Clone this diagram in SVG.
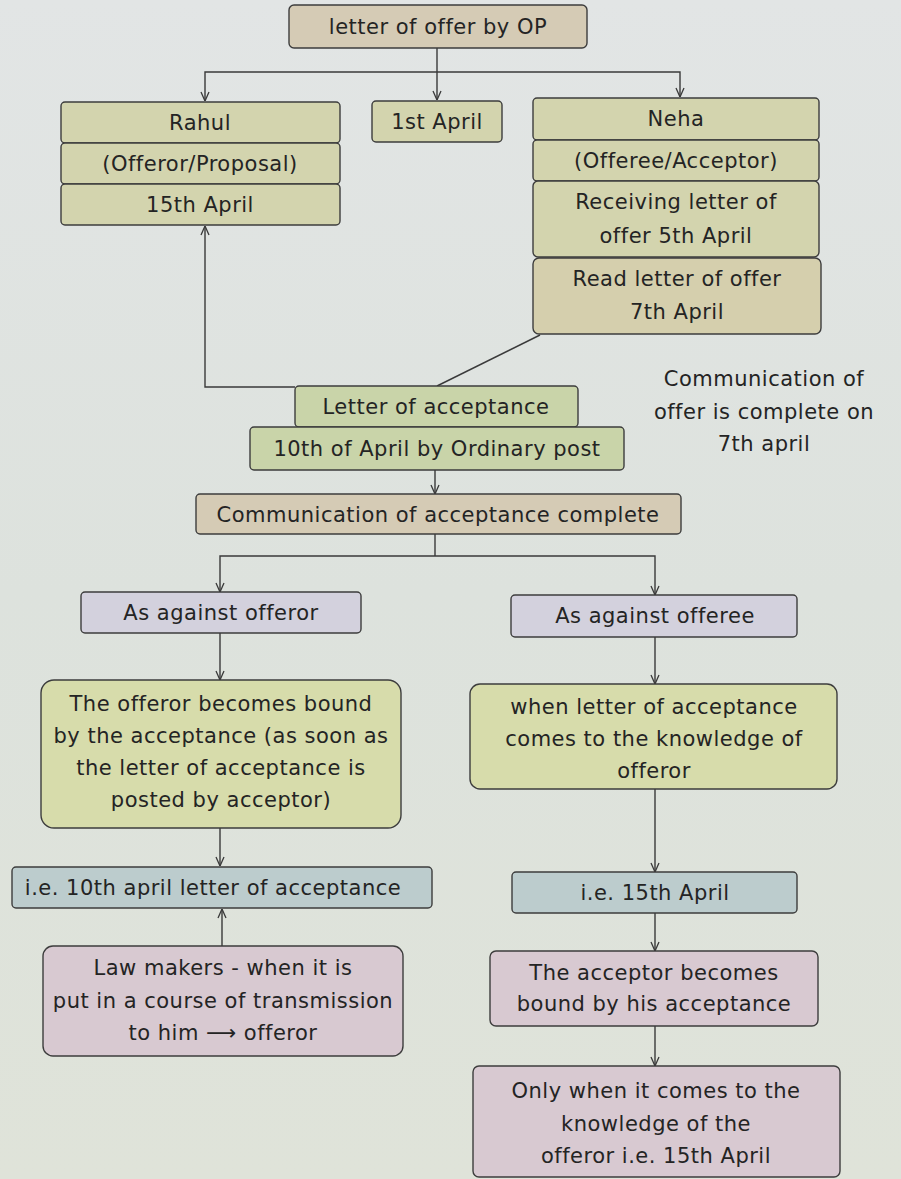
<svg xmlns="http://www.w3.org/2000/svg" width="901" height="1179" viewBox="0 0 901 1179">
  <defs>
    <linearGradient id="page" x1="0" y1="0" x2="0" y2="1">
      <stop offset="0" stop-color="#e2e5e5"/>
      <stop offset="0.5" stop-color="#dde2dd"/>
      <stop offset="1" stop-color="#dfe3d9"/>
    </linearGradient>
    <marker id="arrow" viewBox="0 0 10 10" refX="10" refY="5" markerWidth="10" markerHeight="10" markerUnits="userSpaceOnUse" orient="auto">
      <path d="M1,1 L10,5 L1,9" fill="none" stroke="#3a3a3a" stroke-width="1.3"/>
    </marker>
    <style>
      .box { stroke: #3d3d3d; stroke-width: 1.4; }
      .tan { fill: #d5cbb5; }
      .olive { fill: #d3d4ae; }
      .beige { fill: #d5cfad; }
      .green { fill: #c9d4a9; }
      .lav { fill: #d3d1dd; }
      .yg { fill: #d7dcab; }
      .blue { fill: #bccccd; }
      .pink { fill: #d8c9d1; }
      text { font-family: "DejaVu Sans", "Liberation Sans", sans-serif; font-size: 21px; letter-spacing: 0.5px; fill: #242424; text-anchor: middle; }
      .wire { fill: none; stroke: #3a3a3a; stroke-width: 1.4; }
    </style>
  </defs>

  <rect x="0" y="0" width="901" height="1179" fill="url(#page)"/>

  <!-- connectors -->
  <g id="connectors">
    <path class="wire" d="M437,48 V100" marker-end="url(#arrow)"/>
    <path class="wire" d="M437,72 H205 V101" marker-end="url(#arrow)"/>
    <path class="wire" d="M437,72 H680 V97" marker-end="url(#arrow)"/>
    <path class="wire" d="M295,387 H205 V226" marker-end="url(#arrow)"/>
    <path class="wire" d="M540,335 L437,386"/>
    <path class="wire" d="M435,470 V494" marker-end="url(#arrow)"/>
    <path class="wire" d="M435,534 V556"/>
    <path class="wire" d="M435,556 H220 V592" marker-end="url(#arrow)"/>
    <path class="wire" d="M435,556 H655 V595" marker-end="url(#arrow)"/>
    <path class="wire" d="M220,633 V680" marker-end="url(#arrow)"/>
    <path class="wire" d="M655,637 V684" marker-end="url(#arrow)"/>
    <path class="wire" d="M220,828 V866" marker-end="url(#arrow)"/>
    <path class="wire" d="M655,789 V872" marker-end="url(#arrow)"/>
    <path class="wire" d="M222,946 V909" marker-end="url(#arrow)"/>
    <path class="wire" d="M655,913 V951" marker-end="url(#arrow)"/>
    <path class="wire" d="M655,1026 V1066" marker-end="url(#arrow)"/>
  </g>

  <g id="offer-letter">
    <rect class="box tan" x="289" y="5" width="298" height="43" rx="5"/>
    <text x="438" y="34">letter of offer by OP</text>
  </g>

  <g id="rahul">
    <rect class="box olive" x="61" y="102" width="279" height="41" rx="4"/>
    <text x="200" y="130">Rahul</text>
  </g>
  <g id="rahul-role">
    <rect class="box olive" x="61" y="143" width="279" height="41" rx="4"/>
    <text x="200" y="171">(Offeror/Proposal)</text>
  </g>
  <g id="rahul-date">
    <rect class="box olive" x="61" y="184" width="279" height="41" rx="4"/>
    <text x="200" y="212">15th April</text>
  </g>

  <g id="first-april">
    <rect class="box olive" x="372" y="101" width="130" height="41" rx="4"/>
    <text x="437" y="129">1st April</text>
  </g>

  <g id="neha">
    <rect class="box olive" x="533" y="98" width="286" height="42" rx="4"/>
    <text x="676" y="126">Neha</text>
  </g>
  <g id="neha-role">
    <rect class="box olive" x="533" y="140" width="286" height="41" rx="4"/>
    <text x="676" y="168">(Offeree/Acceptor)</text>
  </g>
  <g id="neha-received">
    <rect class="box olive" x="533" y="181" width="286" height="76" rx="5"/>
    <text x="676" y="209">Receiving letter of</text>
    <text x="676" y="243">offer 5th April</text>
  </g>
  <g id="neha-read">
    <rect class="box beige" x="533" y="258" width="288" height="76" rx="6"/>
    <text x="677" y="286">Read letter of offer</text>
    <text x="677" y="319">7th April</text>
  </g>

  <g id="offer-complete-note">
    <text x="764" y="386">Communication of</text>
    <text x="764" y="419">offer is complete on</text>
    <text x="764" y="451">7th april</text>
  </g>

  <g id="letter-of-acceptance">
    <rect class="box green" x="295" y="386" width="283" height="41" rx="4"/>
    <text x="436" y="414">Letter of acceptance</text>
  </g>
  <g id="posted-date">
    <rect class="box green" x="250" y="427" width="374" height="43" rx="4"/>
    <text x="437" y="456">10th of April by Ordinary post</text>
  </g>

  <g id="acceptance-complete">
    <rect class="box tan" x="196" y="494" width="485" height="40" rx="4"/>
    <text x="438" y="522">Communication of acceptance complete</text>
  </g>

  <g id="against-offeror">
    <rect class="box lav" x="81" y="592" width="280" height="41" rx="4"/>
    <text x="221" y="620">As against offeror</text>
  </g>
  <g id="against-offeree">
    <rect class="box lav" x="511" y="595" width="286" height="42" rx="4"/>
    <text x="655" y="623">As against offeree</text>
  </g>

  <g id="offeror-bound">
    <rect class="box yg" x="41" y="680" width="360" height="148" rx="13"/>
    <text x="221" y="711">The offeror becomes bound</text>
    <text x="221" y="743">by the acceptance (as soon as</text>
    <text x="221" y="775">the letter of acceptance is</text>
    <text x="221" y="807">posted by acceptor)</text>
  </g>
  <g id="offeree-knowledge">
    <rect class="box yg" x="470" y="684" width="367" height="105" rx="10"/>
    <text x="654" y="714">when letter of acceptance</text>
    <text x="654" y="746">comes to the knowledge of</text>
    <text x="654" y="778">offeror</text>
  </g>

  <g id="offeror-date">
    <rect class="box blue" x="12" y="867" width="420" height="41" rx="4"/>
    <text x="213" y="895">i.e. 10th april letter of acceptance</text>
  </g>
  <g id="offeree-date">
    <rect class="box blue" x="512" y="872" width="285" height="41" rx="4"/>
    <text x="655" y="900">i.e. 15th April</text>
  </g>

  <g id="law-makers">
    <rect class="box pink" x="43" y="946" width="360" height="110" rx="10"/>
    <text x="223" y="975">Law makers - when it is</text>
    <text x="223" y="1008">put in a course of transmission</text>
    <text x="223" y="1040">to him ⟶ offeror</text>
  </g>
  <g id="acceptor-bound">
    <rect class="box pink" x="490" y="951" width="328" height="75" rx="6"/>
    <text x="654" y="980">The acceptor becomes</text>
    <text x="654" y="1011">bound by his acceptance</text>
  </g>
  <g id="acceptor-knowledge">
    <rect class="box pink" x="473" y="1066" width="367" height="111" rx="6"/>
    <text x="656" y="1098">Only when it comes to the</text>
    <text x="656" y="1131">knowledge of the</text>
    <text x="656" y="1163">offeror i.e. 15th April</text>
  </g>
</svg>
